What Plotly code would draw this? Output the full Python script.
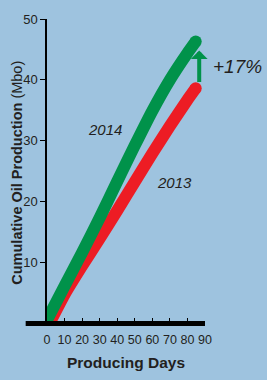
import plotly.graph_objects as go

# ---- data ----
days_2014 = [0, 10, 20, 30, 40, 50, 60, 70, 80, 84.7]
prod_2014 = [0.5, 6.1, 11.6, 17.3, 23.3, 29.2, 34.9, 40.0, 44.4, 46.3]

days_2013 = [1.5, 10, 20, 30, 40, 50, 60, 70, 80, 84.7]
prod_2013 = [0.0, 4.7, 9.4, 13.9, 18.5, 23.2, 27.9, 32.4, 36.7, 38.6]

x_ticks = [0, 10, 20, 30, 40, 50, 60, 70, 80, 90]
y_ticks = [10, 20, 30, 40, 50]

GREEN = "#00924a"
RED = "#ed1c24"
BG = "#9ec3df"
INK = "#231f20"
FONT = "Liberation Sans, Arial, sans-serif"

fig = go.Figure()

for xs, ys, col in [(days_2013, prod_2013, RED), (days_2014, prod_2014, GREEN)]:
    fig.add_trace(go.Scatter(x=xs, y=ys, mode="lines",
                             line=dict(color=col, width=12, shape="spline", smoothing=0.5),
                             hoverinfo="skip", showlegend=False))
    fig.add_trace(go.Scatter(x=[xs[0], xs[-1]], y=[ys[0], ys[-1]], mode="markers",
                             marker=dict(color=col, size=12, line=dict(width=0)),
                             hoverinfo="skip", showlegend=False))

fig.update_layout(
    width=267, height=380,
    margin=dict(l=47, r=62, t=15, b=57),
    paper_bgcolor=BG, plot_bgcolor=BG,
    font=dict(family=FONT, color=INK),
    xaxis=dict(range=[0, 90], tickvals=x_ticks, ticktext=[str(v) for v in x_ticks],
               ticks="inside", ticklen=5, tickwidth=1.3, tickcolor="black", tickangle=0,
               showgrid=False, zeroline=False, showline=False,
               tickfont=dict(size=12.5, family=FONT, color=INK), ticklabelstandoff=7),
    yaxis=dict(range=[0, 50], tickvals=y_ticks, ticktext=[str(v) for v in y_ticks],
               ticks="outside", ticklen=5, tickwidth=1.3, tickcolor="black",
               showgrid=False, zeroline=False, showline=True, linecolor="black", linewidth=1.5,
               tickfont=dict(size=13, family=FONT, color=INK)),
)

# thick baseline
fig.add_shape(type="line", xref="paper", yref="paper", x0=-0.135, x1=1.0, y0=-0.002, y1=-0.002,
              line=dict(color="black", width=5), layer="above")

# axis titles
fig.add_annotation(text="<b>Cumulative Oil Production</b> (Mbo)", xref="paper", yref="paper",
                   x=-0.195, y=0.495, xanchor="center", yanchor="middle", textangle=-90,
                   showarrow=False, font=dict(size=14.5, family=FONT, color=INK))
fig.add_annotation(text="<b>Producing Days</b>", xref="paper", yref="paper",
                   x=0.497, y=-0.13, xanchor="center", yanchor="middle",
                   showarrow=False, font=dict(size=15.5, family=FONT, color=INK))

# series labels
fig.add_annotation(text="<i>2014</i>", x=33, y=31.9, showarrow=False,
                   font=dict(size=15, family=FONT, color=INK))
fig.add_annotation(text="<i>2013</i>", x=72.5, y=23.1, showarrow=False,
                   font=dict(size=15, family=FONT, color=INK))

# +17% arrow
fig.add_annotation(x=86.7, y=44.8, ax=86.7, ay=39.4, xref="x", yref="y", axref="x", ayref="y",
                   showarrow=True, arrowhead=1, arrowsize=0.7, arrowwidth=4, arrowcolor=GREEN, text="")
fig.add_annotation(text="<i>+17%</i>", xref="paper", yref="paper", x=1.035, y=0.843,
                   xanchor="left", yanchor="middle", showarrow=False,
                   font=dict(size=19, family=FONT, color=INK))

fig.write_html("out.html", config={"displayModeBar": False},
               post_script="document.body.style.margin='0';document.body.style.overflow='hidden';")
